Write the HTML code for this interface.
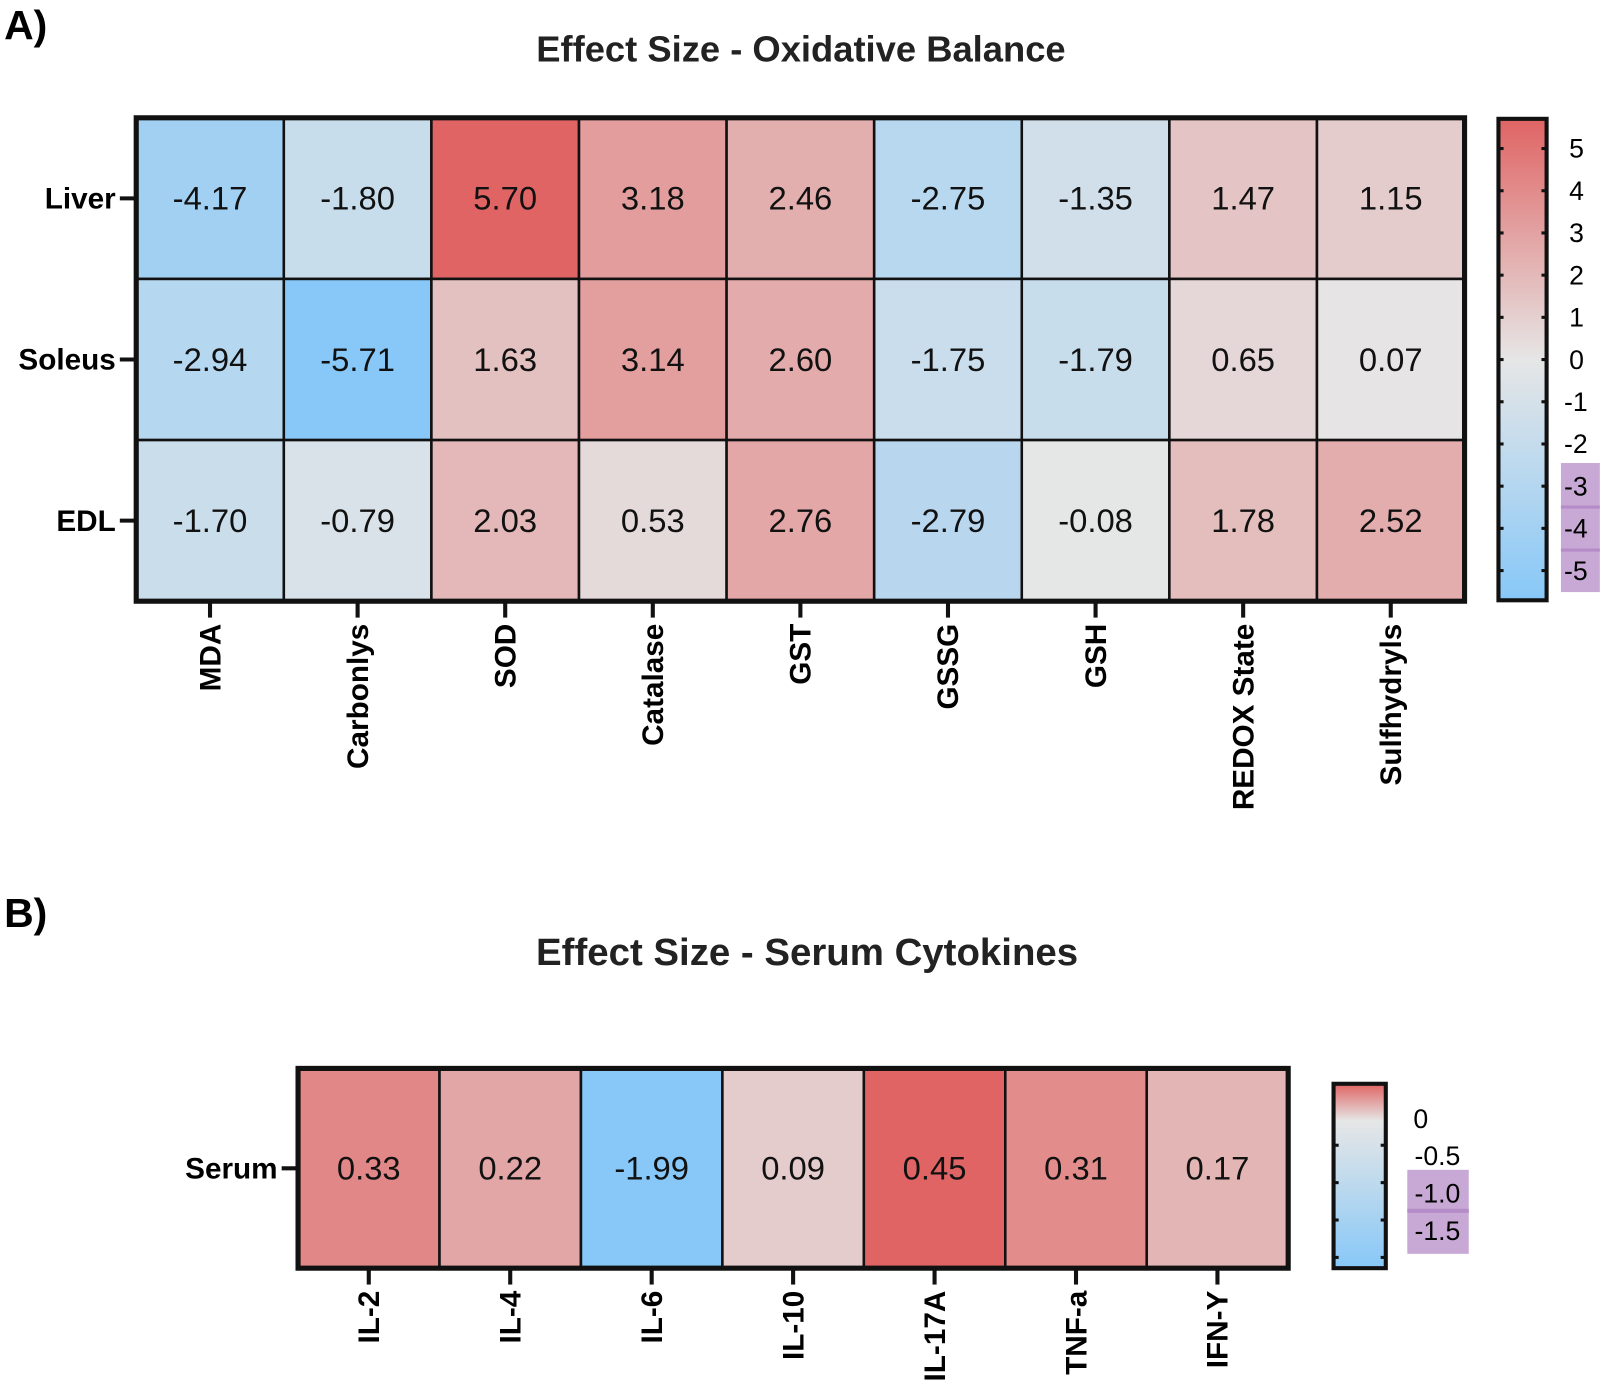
<!DOCTYPE html>
<html><head><meta charset="utf-8"><style>
body{margin:0;background:#fff;font-family:"Liberation Sans",Arial,sans-serif}
svg text{font-family:"Liberation Sans",Arial,sans-serif}
</style></head><body>
<svg id="s" width="1606" height="1387" viewBox="0 0 1568 1354" preserveAspectRatio="none" xmlns="http://www.w3.org/2000/svg" style="display:block">
<defs>
<linearGradient id="gA" x1="0" y1="0" x2="0" y2="1"><stop offset="0" stop-color="#e06464"/><stop offset="0.5" stop-color="#e6e6e6"/><stop offset="1" stop-color="#87c8f8"/></linearGradient>
<linearGradient id="gB" x1="0" y1="0" x2="0" y2="1"><stop offset="0" stop-color="#e06464"/><stop offset="0.2" stop-color="#e6e6e6"/><stop offset="1" stop-color="#87c8f8"/></linearGradient>
</defs>
<text x="4" y="38" font-size="40" font-weight="bold">A)</text>
<text x="782" y="60" font-size="35.5" font-weight="bold" text-anchor="middle" fill="#222">Effect Size - Oxidative Balance</text>
<text x="4" y="905" font-size="40" font-weight="bold">B)</text>
<text x="788" y="942" font-size="37.5" font-weight="bold" text-anchor="middle" fill="#222">Effect Size - Serum Cytokines</text>
<g id="A"></g><g id="B"></g>
</svg>
<script>
const rowsA=["Liver","Soleus","EDL"];
const colsA=["MDA","Carbonlys","SOD","Catalase","GST","GSSG","GSH","REDOX State","Sulfhydryls"];
const liverVals=[-4.17,-1.80,5.70,3.18,2.46,-2.75,-1.35,1.47,1.15];
const soleusVals=[-2.94,-5.71,1.63,3.14,2.60,-1.75,-1.79,0.65,0.07];
const edlVals=[-1.70,-0.79,2.03,0.53,2.76,-2.79,-0.08,1.78,2.52];
const ticksA=[5,4,3,2,1,0,-1,-2,-3,-4,-5];
const rowsB=["Serum"];
const colsB=["IL-2","IL-4","IL-6","IL-10","IL-17A","TNF-a","IFN-Y"];
const serumVals=[0.33,0.22,-1.99,0.09,0.45,0.31,0.17];
const ticksB=["0","-0.5","-1.0","-1.5"];
const NS="http://www.w3.org/2000/svg";
function mk(p,t,a,txt){const e=document.createElementNS(NS,t);for(const k in a)e.setAttribute(k,a[k]);if(txt!==undefined)e.textContent=txt;p.appendChild(e);return e;}
function color(v,max,min){const n=[230,230,230],r=[224,100,100],b=[135,200,248];let t,c;if(v>=0){t=Math.min(1,v/max);c=r;}else{t=Math.min(1,v/min);c=b;}
return `rgb(${n.map((x,i)=>Math.round(x+(c[i]-x)*t)).join(',')})`;}
function heat(g,x0,y0,cw,ch,rows,cols,data,max,min,fs){
 data.forEach((row,ri)=>row.forEach((v,ci)=>{
  const r=mk(g,'rect',{x:x0+ci*cw,y:y0+ri*ch,width:cw,height:ch,fill:color(v,max,min),stroke:'#111','stroke-width':2.5});
  
  
  const t=mk(g,'text',{x:x0+ci*cw+cw/2,y:y0+ri*ch+ch/2+11,'font-size':fs,'text-anchor':'middle',fill:'#111'},v.toFixed(2));
  
  
 }));
 const f=mk(g,'rect',{x:x0,y:y0,width:cw*cols.length,height:ch*rows.length,fill:'none',stroke:'#111','stroke-width':5});
 
 
 rows.forEach((r,i)=>{const y=y0+i*ch+ch/2;
  mk(g,'line',{x1:x0-16,x2:x0,y1:y,y2:y,stroke:'#111','stroke-width':4});
  const t=mk(g,'text',{x:x0-20,y:y+10,'font-size':29,'font-weight':'bold','text-anchor':'end'},r);
  
  });
 const yb=y0+ch*rows.length;
 cols.forEach((c,i)=>{const x=x0+i*cw+cw/2;
  mk(g,'line',{x1:x,x2:x,y1:yb,y2:yb+16,stroke:'#111','stroke-width':4});
  const t=mk(g,'text',{x:0,y:0,'font-size':29,'font-weight':'bold','text-anchor':'end',transform:`translate(${x+10},${yb+22}) rotate(-90)`},c);
  
  });
}
const A=document.getElementById('A'),B=document.getElementById('B');
heat(A,133,115,144.1,157.3,rowsA,colsA,[liverVals,soleusVals,edlVals],5.70,-5.71,32);
heat(B,291,1043,138.1,195,rowsB,colsB,[serumVals],0.45,-1.99,32);
// colorbar A
mk(A,'rect',{x:1524,y:452,width:38,height:126,fill:'#c8a9d6'});
mk(A,'line',{x1:1524,x2:1562,y1:495,y2:495,stroke:'#b48cc8','stroke-width':3});
mk(A,'line',{x1:1524,x2:1562,y1:537,y2:537,stroke:'#b48cc8','stroke-width':3});
const cbA=mk(A,'rect',{x:1463,y:116,width:47,height:470,fill:'url(#gA)',stroke:'#111','stroke-width':4});


ticksA.forEach(v=>{const y=351-v*41.2;
 mk(A,'line',{x1:1463,x2:1468,y1:y,y2:y,stroke:'#111','stroke-width':3});
 mk(A,'line',{x1:1505,x2:1510,y1:y,y2:y,stroke:'#111','stroke-width':3});
 const t=mk(A,'text',{x:v<0?1527:1532,y:y+9,'font-size':26},String(v));
 
 });
// colorbar B
mk(B,'rect',{x:1374,y:1142,width:60,height:82,fill:'#c8a9d6'});
mk(B,'line',{x1:1374,x2:1434,y1:1182,y2:1182,stroke:'#b48cc8','stroke-width':4});
const cbB=mk(B,'rect',{x:1302,y:1058,width:51,height:180,fill:'url(#gB)',stroke:'#111','stroke-width':4});


ticksB.forEach((v,i)=>{const y=1118+i*36.5;
 mk(B,'line',{x1:1302,x2:1307,y1:y,y2:y,stroke:'#111','stroke-width':3});
 mk(B,'line',{x1:1348,x2:1353,y1:y,y2:y,stroke:'#111','stroke-width':3});
 const t=mk(B,'text',{x:i==0?1380:1381,y:y-17,'font-size':26},v);
 
 });
</script>
</body></html>
